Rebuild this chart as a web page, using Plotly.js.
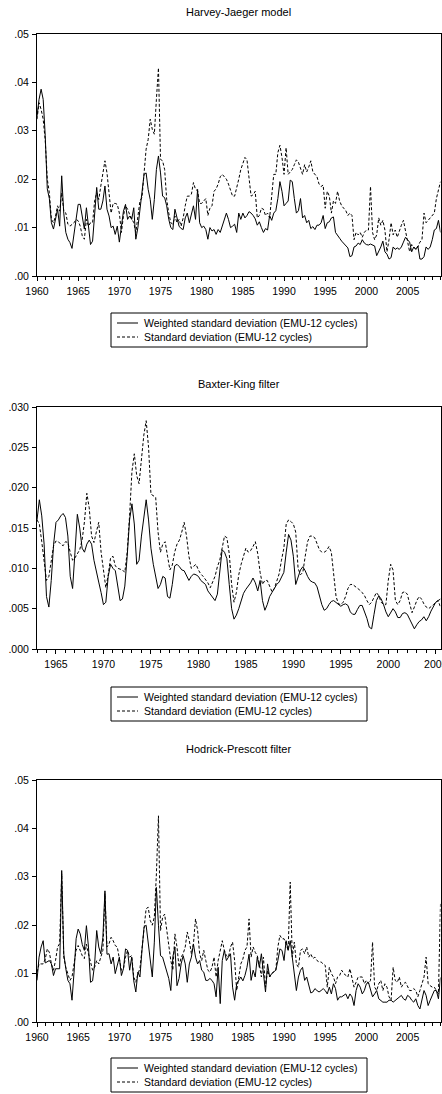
<!DOCTYPE html>
<html>
<head>
<meta charset="utf-8">
<script src="https://cdn.plot.ly/plotly-3.0.1.min.js"></script>
<style>
html,body{margin:0;padding:0;background:#fff;overflow:hidden;}
#chart{width:442px;height:1094px;}
</style>
</head>
<body>
<div id="chart"></div>
<script>
// ---------- data (quarterly) ----------
const panelTitles = ["Harvey-Jaeger model", "Baxter-King filter", "Hodrick-Prescott filter"];
const seriesNames = ["Weighted standard deviation (EMU-12 cycles)", "Standard deviation (EMU-12 cycles)"];

const hjStart = 1960; // 1960Q1 - 2009Q1
const hjWeighted = [
.033,.0365,.0386,.0365, .029,.018,.016,.011, .0097,.0117,.0138,.0103, .0207,.013,.009,.0076,
.0069,.0057,.009,.0124, .0148,.0148,.0117,.0097, .0141,.0103,.0065,.0072, .013,.0183,.0138,.0138,
.0155,.0186,.0138,.0124, .010,.0103,.0086,.0103, .007,.0103,.0134,.0148, .0117,.0124,.0117,.0141,
.0076,.010,.0134,.0179, .021,.0213,.0179,.0158, .0117,.0158,.022,.0248, .0213,.0165,.0162,.0145,
.0117,.010,.0096,.0138, .0117,.0103,.0098,.0096, .012,.013,.011,.013, .0145,.0117,.0179,.011,
.010,.0103,.0096,.0076, .010,.0093,.0096,.0086, .0096,.009,.0103,.012, .013,.0117,.010,.0103,
.0107,.009,.013,.0117, .013,.012,.0125,.0133, .013,.0125,.0118,.0105, .0112,.010,.009,.0098,
.0095,.0125,.0115,.013, .0135,.016,.0195,.0175, .0145,.015,.0155,.0198, .0195,.016,.013,.0135,
.016,.012,.0125,.011, .0115,.0098,.0102,.0096, .0105,.0105,.011,.0125, .0098,.011,.0112,.012,
.0122,.009,.0085,.0078, .0072,.0068,.0062,.0058, .004,.0042,.006,.0062, .0068,.0065,.0075,.0068,
.0065,.0064,.0066,.0064, .0062,.0042,.005,.006, .0072,.005,.0045,.0035, .0038,.006,.0055,.0058,
.0055,.006,.007,.008, .0075,.007,.005,.006, .0055,.0062,.0035,.0035, .004,.006,.0055,.006,
.0075,.0095,.0098,.0115, .009];
const hjStd = [
.0324,.0358,.0344,.0324, .028,.020,.0172,.0117, .011,.0124,.0145,.0134, .0172,.0134,.013,.0107,
.0103,.0107,.011,.0117, .0114,.0103,.0083,.0076, .0117,.0103,.011,.011, .0155,.0172,.0158,.0186,
.0213,.0238,.0213,.0165, .013,.015,.015,.0148, .013,.009,.0124,.0145, .0138,.0127,.0117,.011,
.009,.0124,.0155,.0162, .022,.0262,.0282,.0324, .0303,.0293,.0365,.043, .0241,.0238,.022,.0158,
.013,.011,.0107,.0124, .011,.0117,.0103,.012, .0145,.0165,.0165,.0169, .0193,.0179,.0176,.015,
.015,.0155,.016,.0125, .014,.0145,.0175,.018, .019,.0205,.021,.0205, .020,.019,.0175,.0165,
.0165,.018,.020,.022, .0235,.0245,.024,.0205, .0165,.0168,.0175,.012, .0125,.014,.0138,.0125,
.013,.012,.0165,.021, .021,.0255,.027,.0245, .021,.0265,.021,.0215, .022,.023,.024,.0235,
.022,.021,.023,.0215, .0225,.0238,.0215,.021, .0205,.019,.0185,.0188, .014,.0175,.0165,.013,
.0155,.015,.0175,.0155, .0145,.014,.0135,.0125, .013,.0125,.0075,.009, .0085,.009,.008,.009,
.0095,.0095,.0185,.009, .0075,.0085,.012,.0105, .0115,.0095,.005,.0075, .011,.0085,.0095,.008,
.0095,.0105,.0115,.0095, .007,.005,.0065,.006, .0055,.006,.007,.0075, .013,.011,.0115,.012,
.0125,.013,.016,.018, .0195];

const bkStart = 1963; // 1963Q1 - 2005Q3
const bkWeighted = [
.016,.0185,.0165,.013, .0065,.0052,.0085,.013, .0157,.016,.0165,.0168, .0163,.014,.009,.0075,
.012,.0167,.015,.0125, .012,.013,.0135,.013, .011,.0095,.0083,.007, .0055,.0058,.009,.0105,
.010,.0097,.0075,.006, .0062,.0078,.0115,.016, .018,.0155,.0105,.011, .014,.0165,.0185,.016,
.0125,.0105,.009,.0075, .008,.009,.0088,.0065, .0063,.008,.0103,.0105, .0102,.0098,.0097,.009,
.0085,.009,.0093,.0092, .009,.0085,.0083,.008, .0072,.0068,.0063,.006, .0068,.0095,.0123,.012,
.0112,.008,.005,.0037, .0042,.005,.006,.0069, .0074,.0078,.0082,.0088, .0082,.0072,.0085,.006,
.0048,.0055,.0065,.007, .0075,.008,.0083,.009, .0095,.012,.0142,.0135, .0115,.008,.0088,.0098,
.0102,.0097,.009,.0085, .0083,.0082,.0077,.0065, .0055,.0048,.005,.0055, .0059,.006,.0058,.0055,
.0053,.0055,.0056,.0054, .0046,.0043,.0043,.0049, .0054,.0054,.0046,.0038, .0027,.0025,.0043,.006,
.0066,.0062,.0055,.0046, .004,.0045,.005,.0046, .0039,.0039,.0044,.0045, .0043,.0037,.003,.0025,
.003,.0034,.0036,.004, .0035,.004,.0047,.0053, .0058,.006,.0062];
const bkStd = [
.016,.0155,.0133,.011, .0085,.009,.011,.0128, .0134,.0133,.013,.0128, .0133,.0132,.012,.011,
.0113,.0118,.0123,.0135, .0158,.0193,.0175,.014, .0132,.0145,.0157,.012, .0098,.0076,.0092,.0113,
.0115,.0103,.010,.0099, .0098,.0095,.012,.0165, .022,.0242,.0215,.0205, .0235,.0265,.0283,.025,
.0192,.019,.0188,.0145, .012,.013,.0133,.0115, .0098,.0104,.012,.013, .0135,.0145,.0157,.014,
.0115,.010,.0103,.0105, .0098,.0093,.009,.0086, .0082,.0076,.0082,.009, .0102,.011,.0125,.014,
.0138,.0118,.008,.0058, .007,.0092,.0105,.0115, .0125,.012,.0122,.0127, .0133,.0118,.0095,.008,
.0085,.0085,.0077,.0071, .0075,.0085,.0093,.011, .0125,.0155,.016,.0158, .0155,.0145,.010,.0092,
.0095,.0115,.0133,.014, .014,.0138,.013,.0123, .012,.012,.0122,.0127, .012,.0095,.0065,.0056,
.0055,.0058,.0065,.0075, .008,.008,.0078,.0076, .0073,.007,.0066,.006, .0055,.0058,.0065,.007,
.0066,.0058,.0055,.0055, .0085,.0105,.0098,.006, .0055,.006,.007,.0071, .0068,.0058,.0045,.0052,
.006,.0065,.0062,.0056, .0052,.005,.0052,.0055, .0058,.006,.0052];

const hpStart = 1960; // 1960Q1 - 2009Q1
const hpWeighted = [
.0086,.0134,.0155,.0168, .0122,.0124,.0127,.012, .0096,.011,.011,.011, .0313,.0141,.011,.0086,
.0079,.0045,.0103,.0172, .0192,.0182,.016,.0148, .0199,.0155,.0082,.0085, .012,.0189,.0155,.0141,
.0175,.0271,.014,.0141, .012,.0134,.010,.012, .0134,.0096,.011,.0151, .0148,.0107,.0134,.0085,
.0062,.0103,.0093,.0148, .0196,.020,.016,.0124, .0093,.0165,.0278,.020, .0137,.0134,.012,.0107,
.009,.0065,.0135,.0155, .0075,.009,.012,.0137, .012,.0082,.012,.0134, .0161,.0134,.012,.0127,
.0107,.0103,.0086,.0086, .009,.0086,.0079,.0052, .0113,.0038,.0127,.0148, .0127,.0134,.0141,.0072,
.0045,.0079,.0086,.0093, .0085,.0096,.0113,.014, .0086,.0107,.0093,.0134, .0113,.0141,.010,.0062,
.012,.0093,.010,.0103, .0107,.0127,.0151,.0148, .0127,.0168,.0148,.0168, .0134,.0103,.0065,.0093,
.0107,.0113,.0086,.0093, .0075,.006,.0062,.0069, .0065,.0062,.0065,.0069, .0065,.0058,.0072,.0058,
.0079,.0069,.0045,.0052, .0052,.0055,.0058,.0048, .0058,.0052,.0034,.0065, .0079,.0072,.0058,.0065,
.0079,.0082,.0065,.0052, .0058,.0065,.0048,.0045, .0041,.0041,.0041,.0045, .0045,.0041,.0045,.0048,
.0052,.0055,.0048,.0045, .0055,.0052,.0045,.0041, .0048,.0034,.0027,.0045, .0065,.0055,.0034,.0045,
.0055,.0065,.0065,.0048, .0092];
const hpStd = [
.0103,.012,.012,.012, .013,.0151,.0144,.012, .0107,.0127,.0155,.0162, .0306,.0134,.0113,.010,
.0086,.0093,.012,.0148, .0158,.0148,.0137,.0131, .0161,.0141,.0124,.0107, .0113,.0127,.012,.0137,
.0148,.0265,.0155,.0162, .0175,.0168,.0158,.0155, .0134,.0107,.011,.0134, .0148,.0134,.0137,.0093,
.0082,.010,.011,.0155, .0203,.0234,.0237,.021, .020,.0217,.0306,.0426, .0189,.0216,.0223,.0189,
.0155,.0127,.0107,.0182, .0155,.0113,.0134,.0141, .0155,.0186,.0168,.0141, .0162,.0213,.0189,.0141,
.0127,.0148,.0127,.0107, .0103,.0113,.0134,.0093, .0127,.0145,.0168,.0148, .0137,.0134,.0155,.0165,
.0127,.0065,.0093,.012, .013,.0148,.0155,.0213, .0134,.0155,.0144,.0137, .012,.0093,.0134,.0072,
.0107,.0093,.010,.0103, .0107,.0155,.0179,.0172, .0172,.0161,.0148,.0289, .0134,.0165,.012,.0113,
.0148,.0151,.0141,.0155, .0134,.0141,.0131,.0134, .0127,.0124,.0124,.012, .0117,.0072,.0113,.010,
.0093,.0079,.0093,.0096, .0107,.010,.0096,.0093, .011,.0093,.0072,.0082, .0093,.0093,.0093,.0079,
.0086,.0079,.0086,.0165, .0072,.0065,.0079,.0086, .0065,.0079,.0072,.0052, .0045,.0113,.0086,.0082,
.0093,.0072,.0079,.0082, .0072,.0065,.0065,.0069, .0065,.0052,.0065,.0079, .0093,.0134,.0079,.0075,
.0072,.0072,.0065,.0058, .0244];

const yTickVals1 = [0, .01, .02, .03, .04, .05];
const yTickText1 = [".00", ".01", ".02", ".03", ".04", ".05"];
const yTickVals2 = [0, .005, .010, .015, .020, .025, .030];
const yTickText2 = [".000", ".005", ".010", ".015", ".020", ".025", ".030"];

// ---------- helpers ----------
function quarterAxis(start, n) { const a = []; for (let i = 0; i < n; i++) a.push(start + i / 4); return a; }

const W = 442, H = 1094;
const FONT = "Liberation Sans, Arial, Helvetica, sans-serif";
const px = v => v / W;
const py = v => 1 - v / H;

const xDom = [px(37), px(440.5)];
const panels = [
  {top: 34,  bottom: 276,  title: 12,  legTop: 313},
  {top: 407, bottom: 649,  title: 384, legTop: 687},
  {top: 780, bottom: 1022, title: 749, legTop: 1058}
];

const solidLine = {color: "#000", width: 1};
const dashLine = {color: "#000", width: 1, dash: "3px,2px"};

const traces = [
  {x: quarterAxis(hjStart, hjWeighted.length), y: hjWeighted, name: seriesNames[0], xaxis: "x", yaxis: "y", line: solidLine},
  {x: quarterAxis(hjStart, hjStd.length), y: hjStd, name: seriesNames[1], xaxis: "x", yaxis: "y", line: dashLine},
  {x: quarterAxis(bkStart, bkWeighted.length), y: bkWeighted, name: seriesNames[0], xaxis: "x2", yaxis: "y2", line: solidLine},
  {x: quarterAxis(bkStart, bkStd.length), y: bkStd, name: seriesNames[1], xaxis: "x2", yaxis: "y2", line: dashLine},
  {x: quarterAxis(hpStart, hpWeighted.length), y: hpWeighted, name: seriesNames[0], xaxis: "x3", yaxis: "y3", line: solidLine},
  {x: quarterAxis(hpStart, hpStd.length), y: hpStd, name: seriesNames[1], xaxis: "x3", yaxis: "y3", line: dashLine}
].map(t => Object.assign({type: "scatter", mode: "lines", showlegend: false, hoverinfo: "skip"}, t));

const tickFont = {family: FONT, size: 10.5, color: "#000"};
function xAx(range, anchor) {
  return {
    domain: xDom, anchor: anchor, range: range,
    tickmode: "linear", tick0: 1960, dtick: 5, tickformat: "d",
    ticks: "outside", ticklen: 4, tickwidth: 1, tickcolor: "#000",
    minor: {tickmode: "linear", tick0: 1960, dtick: 1, ticks: "outside", ticklen: 3, tickcolor: "#000", tickwidth: 1, showgrid: false},
    showline: true, mirror: true, linecolor: "#000", linewidth: 1,
    showgrid: false, zeroline: false, tickfont: tickFont, ticklabelstandoff: 1,
    ticklabeloverflow: "allow", automargin: false, fixedrange: true
  };
}
function yAx(p, anchor, vals, text) {
  return {
    domain: [py(p.bottom), py(p.top)], anchor: anchor, range: [vals[0], vals[vals.length - 1]],
    tickmode: "array", tickvals: vals, ticktext: text,
    ticks: "outside", ticklen: 4, tickwidth: 1, tickcolor: "#000",
    showline: true, mirror: true, linecolor: "#000", linewidth: 1,
    showgrid: false, zeroline: false, tickfont: tickFont, ticklabelstandoff: 1,
    ticklabeloverflow: "allow", automargin: false, fixedrange: true
  };
}

const annotations = [], shapes = [];
panels.forEach((p, k) => {
  annotations.push({
    xref: "paper", yref: "paper", x: (xDom[0] + xDom[1]) / 2, y: py(p.title),
    xanchor: "center", yanchor: "middle", showarrow: false,
    text: panelTitles[k], font: {family: FONT, size: 11, color: "#000"}
  });
  const lt = p.legTop, lb = lt + 34;
  shapes.push({type: "rect", xref: "paper", yref: "paper", x0: px(111), x1: px(367), y0: py(lb), y1: py(lt),
               line: {color: "#000", width: 1}, fillcolor: "rgba(0,0,0,0)"});
  [[lt + 10, solidLine], [lt + 24, dashLine]].forEach(([yy, ln], j) => {
    shapes.push({type: "line", xref: "paper", yref: "paper", x0: px(117), x1: px(138), y0: py(yy), y1: py(yy), line: ln});
    annotations.push({
      xref: "paper", yref: "paper", x: px(142), y: py(yy), xanchor: "left", yanchor: "middle",
      showarrow: false, text: seriesNames[j], font: {family: FONT, size: 10.5, color: "#000"}
    });
  });
});

const layout = {
  width: W, height: H, margin: {l: 0, r: 0, t: 0, b: 0},
  paper_bgcolor: "#fff", plot_bgcolor: "#fff", showlegend: false,
  font: {family: FONT, color: "#000"},
  xaxis: xAx([1960, 2009], "y"),
  yaxis: yAx(panels[0], "x", yTickVals1, yTickText1),
  xaxis2: xAx([1963, 2005.5], "y2"),
  yaxis2: yAx(panels[1], "x2", yTickVals2, yTickText2),
  xaxis3: xAx([1960, 2009], "y3"),
  yaxis3: yAx(panels[2], "x3", yTickVals1, yTickText1),
  annotations: annotations, shapes: shapes
};

Plotly.newPlot("chart", traces, layout, {displayModeBar: false, staticPlot: true});
</script>
</body>
</html>
